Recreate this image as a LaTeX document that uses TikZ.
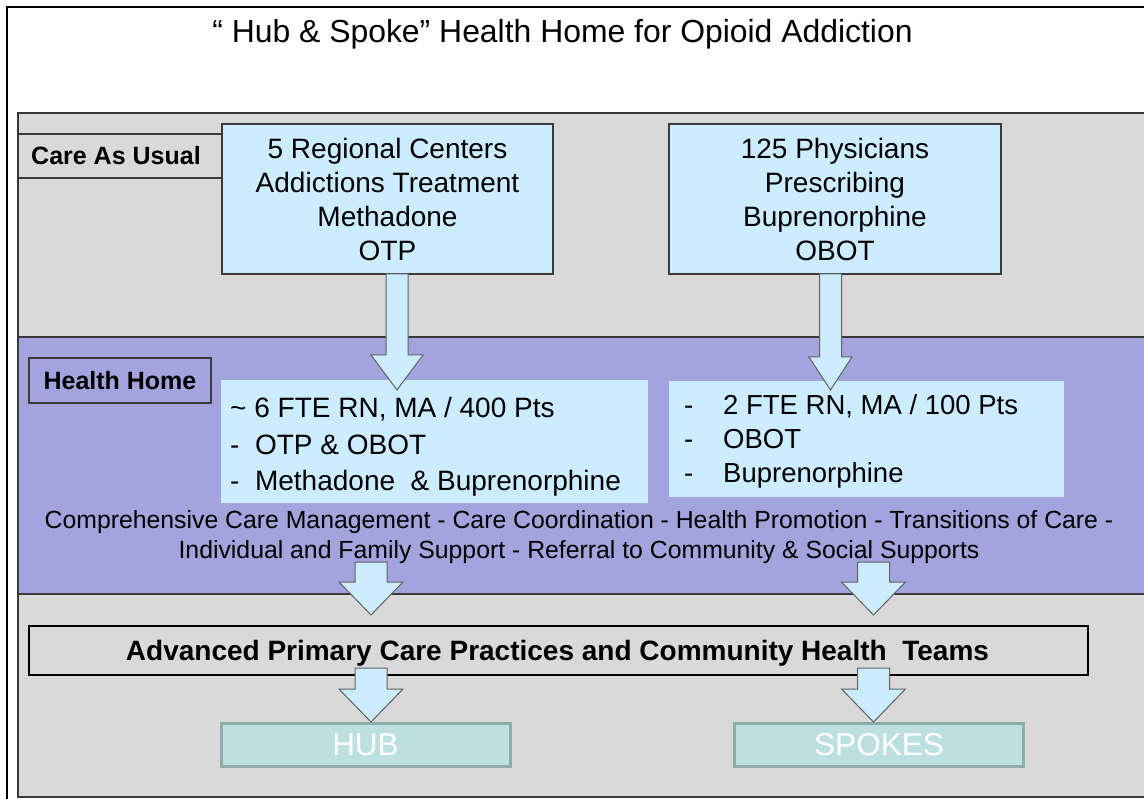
\documentclass[tikz,border=0pt]{standalone}
\usepackage{fontspec}
\setmainfont{Liberation Sans}
\definecolor{greybg}{HTML}{D9D9D9}
\definecolor{purpleband}{HTML}{A3A3DD}
\definecolor{lightblue}{HTML}{CCECFF}
\definecolor{tealfill}{HTML}{BCE0E0}
\definecolor{tealline}{HTML}{8EAAAA}
\definecolor{edge}{HTML}{3A3A3A}
\newcommand\blockarr[6]{%
  \filldraw[arrowst] ({#1-#5},#2) -- ({#1+#5},#2) -- ({#1+#5},#3) -- ({#1+#6},#3)
    -- (#1,#4) -- ({#1-#6},#3) -- ({#1-#5},#3) -- cycle;}
\begin{document}
\begin{tikzpicture}[x=1pt,y=-1pt,
  band/.style={line width=1.3pt, draw=edge},
  tabbox/.style={draw=edge, line width=1.2pt, minimum width=#1, inner sep=0pt},
  bluebox/.style={draw=edge, fill=lightblue, line width=1.1pt, inner sep=0pt, align=center,
    font=\fontsize{28}{34}\selectfont},
  innerbox/.style={fill=lightblue, inner sep=0pt},
  teal/.style={fill=tealfill, draw=tealline, line width=3pt, inner sep=0pt, text=white,
    font=\fontsize{31.5}{34}\selectfont},
  arrowst/.style={fill=lightblue, draw=edge!80, line width=1pt, line join=miter}]
\useasboundingbox (0,0) rectangle (1144,799);
% outer frame
\draw[line width=2pt, black] (7,799) -- (7,7) -- (1144,7);
% grey region
\fill[greybg] (18,113) rectangle (1144,797);
\draw[band] (1144,113) -- (18,113) -- (18,797) -- (1144,797);
% purple band
\fill[purpleband] (18,337) rectangle (1144,594);
\draw[band] (18,337) -- (1144,337);
\draw[band] (18,594) -- (1144,594);
\draw[band] (18,337) -- (18,594);
% title
\node[anchor=base, font=\fontsize{31.9}{36}\selectfont] (title) at (562.5,43) {“ Hub \& Spoke” Health Home for Opioid Addiction};
% tabs
\node[tabbox=204pt, minimum height=44pt, fill=greybg, font=\bfseries\fontsize{25}{28}\selectfont] (care) at (120,156) {\hspace{-8pt}Care As Usual};
\node[tabbox=182pt, minimum height=45pt, fill=purpleband, font=\bfseries\fontsize{25}{28}\selectfont] (hh) at (120,380.5) {Health Home};
% top boxes
\node[bluebox, minimum width=331pt, minimum height=150pt] (otp) at (387.5,199)
  {5 Regional Centers\\Addictions Treatment\\Methadone\\OTP};
\node[bluebox, minimum width=332pt, minimum height=150pt] (obot) at (835,199)
  {125 Physicians\\Prescribing\\Buprenorphine\\OBOT};
% inner boxes
\node[innerbox, minimum width=427pt, minimum height=123pt] (hub1) at (434.5,441.5) {};
\node[anchor=west, align=left, inner sep=0pt, font=\fontsize{28}{36.5}\selectfont] (hub1txt) at (230,447)
  {\~{}\ 6 FTE RN, MA / 400 Pts\\
   -\ \ OTP \& OBOT\\
   -\ \ Methadone\ \ \& Buprenorphine};
\node[innerbox, minimum width=395pt, minimum height=116pt] (spk1) at (866.5,439) {};
\node[anchor=west, align=left, inner sep=0pt, font=\fontsize{27.5}{34}\selectfont] (spk1txt) at (684,441.5)
  {\makebox[39pt][l]{-}2 FTE RN, MA / 100 Pts\\
   \makebox[39pt][l]{-}OBOT\\
   \makebox[39pt][l]{-}Buprenorphine};
% services text
\node[align=center, font=\fontsize{24.8}{30}\selectfont] (svc) at (579,537)
  {Comprehensive Care Management - Care Coordination - Health Promotion - Transitions of Care -\\
   Individual and Family Support - Referral to Community \& Social Supports};
% arrows into health home
\blockarr{397}{274}{355}{390}{11}{26}
\blockarr{830.5}{274}{357}{390}{11}{21.5}
% arrows out of health home
\blockarr{371}{562}{582}{615}{16}{32}
\blockarr{873.5}{562}{582}{615}{16}{32}
% bottom box
\node[draw=black, line width=1.3pt, minimum width=1059pt, minimum height=49pt, inner sep=0pt] (apc) at (558.5,650.5) {};
\node[font=\bfseries\fontsize{28}{30}\selectfont, inner sep=0pt] (apctxt) at (557.5,653)
  {Advanced Primary Care Practices and Community Health\ \ Teams};
% hub and spokes
\node[teal, minimum width=289pt, minimum height=43pt] (hub) at (365.5,744.5) {HUB};
\node[teal, minimum width=289pt, minimum height=43pt] (spokes) at (879,744.5) {SPOKES};
\blockarr{371}{668}{689}{722}{16}{32}
\blockarr{873.5}{668}{689}{722}{16}{32}
\end{tikzpicture}
\end{document}
